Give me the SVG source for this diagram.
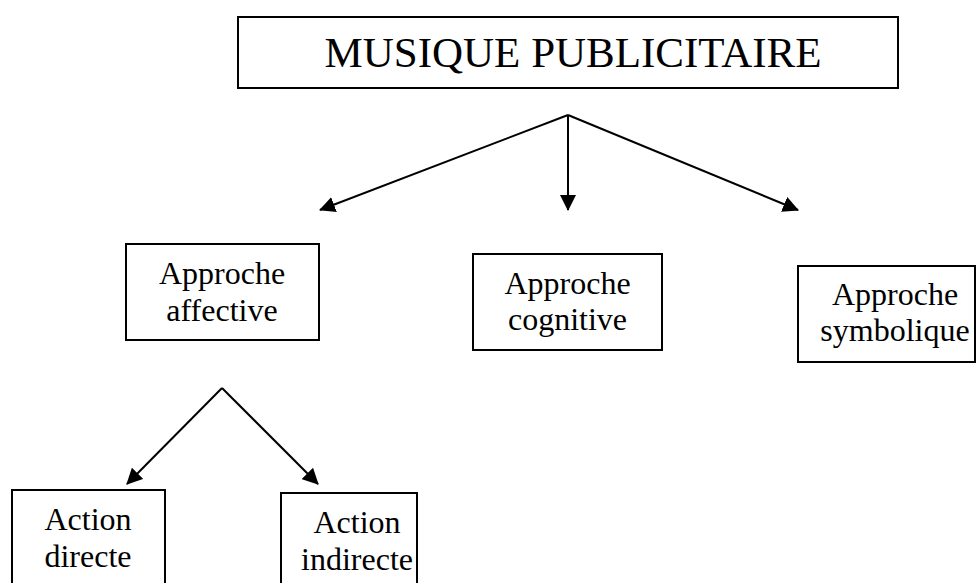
<svg xmlns="http://www.w3.org/2000/svg" width="976" height="583" viewBox="0 0 976 583">
<style>
  .box { fill: #ffffff; stroke: #000000; stroke-width: 2; }
  .t { font-family: "Liberation Serif", "Times New Roman", serif; fill: #000000; text-anchor: middle; }
  .big { font-size: 43px; }
  .mid { font-size: 32px; }
  .conn { stroke: #000000; stroke-width: 2; fill: none; marker-end: url(#ah); }
</style>
<defs>
  <marker id="ah" markerUnits="userSpaceOnUse" markerWidth="16" markerHeight="16" viewBox="0 0 16 16" refX="15" refY="8" orient="auto">
    <path d="M0,0 L16,8 L0,16 z" fill="#000000"/>
  </marker>
</defs>
<rect width="976" height="583" fill="#ffffff"/>

<g id="connectors">
  <line class="conn" x1="568" y1="115" x2="320" y2="210"/>
  <line class="conn" x1="568" y1="115" x2="568" y2="210"/>
  <line class="conn" x1="568" y1="115" x2="798" y2="210"/>
  <line class="conn" x1="222" y1="388" x2="127" y2="484"/>
  <line class="conn" x1="222" y1="388" x2="318" y2="484"/>
</g>

<g id="musique">
  <rect class="box" x="238" y="17" width="660" height="71"/>
  <text class="t big" x="573" y="67">MUSIQUE PUBLICITAIRE</text>
</g>

<g id="affective">
  <rect class="box" x="126" y="244" width="193" height="96"/>
  <text class="t mid" x="222" y="284">Approche</text>
  <text class="t mid" x="222" y="321">affective</text>
</g>

<g id="cognitive">
  <rect class="box" x="473" y="254" width="189" height="96"/>
  <text class="t mid" x="567.5" y="294">Approche</text>
  <text class="t mid" x="567.5" y="330">cognitive</text>
</g>

<g id="symbolique">
  <rect class="box" x="798" y="266" width="177" height="96"/>
  <text class="t mid" x="895" y="305">Approche</text>
  <text class="t mid" x="895" y="341">symbolique</text>
</g>

<g id="directe">
  <rect class="box" x="12" y="490" width="153" height="110"/>
  <text class="t mid" x="88" y="530">Action</text>
  <text class="t mid" x="88" y="567">directe</text>
</g>

<g id="indirecte">
  <rect class="box" x="281" y="493" width="136" height="110"/>
  <text class="t mid" x="357" y="533">Action</text>
  <text class="t mid" x="357" y="570">indirecte</text>
</g>
</svg>
